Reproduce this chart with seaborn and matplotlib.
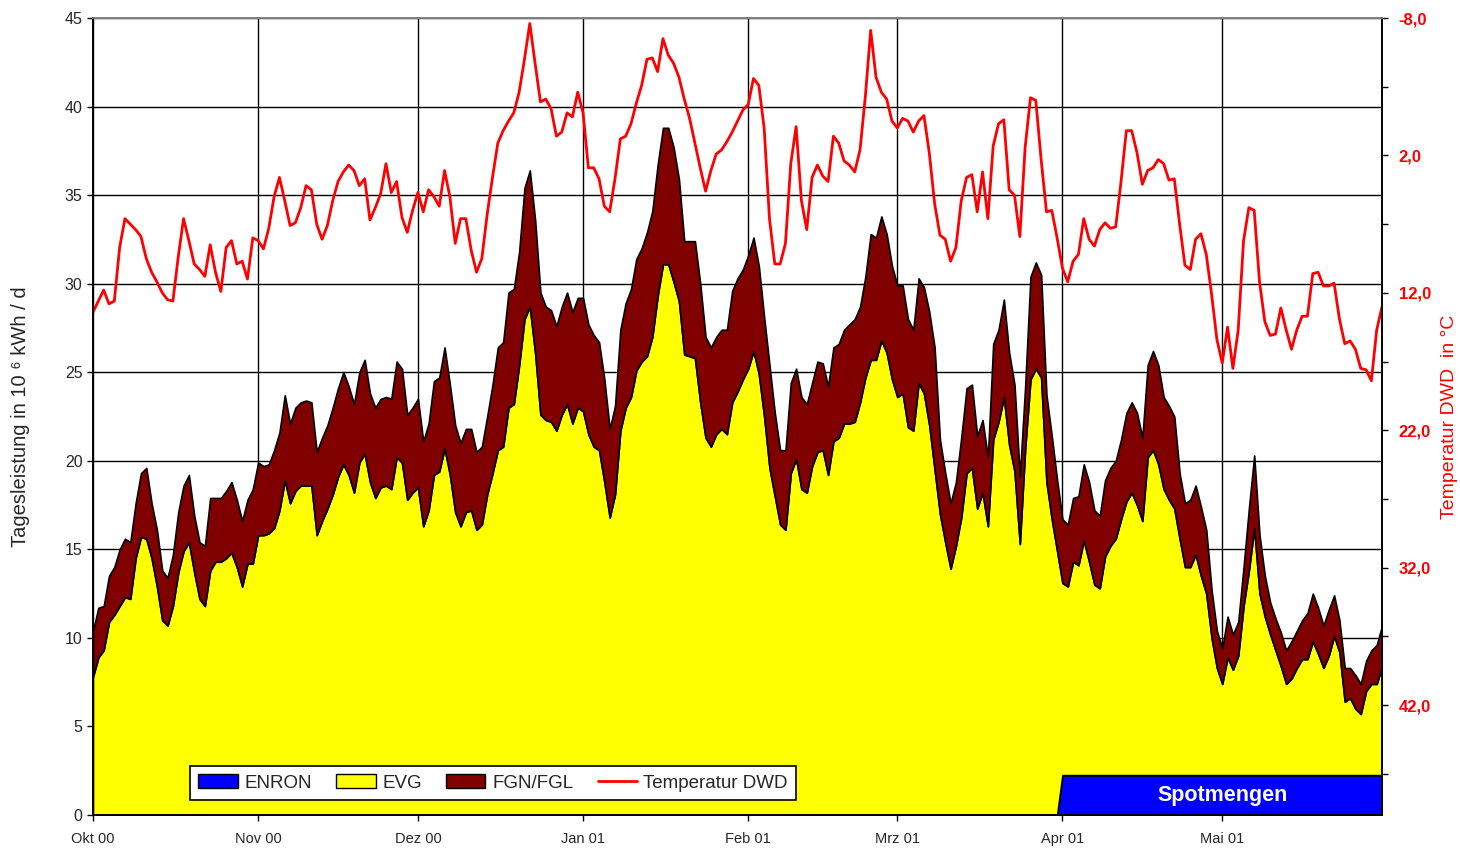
import numpy as np
import pandas as pd
import matplotlib
matplotlib.use("Agg")
import matplotlib.pyplot as plt
from matplotlib.patches import Patch
from matplotlib.lines import Line2D
import seaborn as sns

# one value per day, 1 Oct 2000 .. 31 May 2001
dates = pd.date_range("2000-10-01", "2001-05-31", freq="D")

# stacked totals, 10^6 kWh/d
# top of the yellow area (ENRON + EVG)
evg_top = [
    7.8, 8.9, 9.3, 10.9, 11.3, 11.8, 12.3, 12.2, 14.5, 15.7,
    15.6, 14.5, 12.9, 11.0, 10.7, 11.8, 13.7, 14.9, 15.4, 13.7,
    12.2, 11.8, 13.8, 14.3, 14.3, 14.5, 14.8, 14.0, 12.9, 14.2,
    14.2, 15.8, 15.8, 15.9, 16.2, 17.2, 18.9, 17.6, 18.3, 18.6,
    18.6,
    18.6, 15.8, 16.6, 17.3, 18.1, 19.1, 19.8, 19.2, 18.2, 19.9,
    20.4, 18.8, 17.9, 18.5, 18.6, 18.4, 20.2, 19.9, 17.8, 18.2,
    18.5, 16.3, 17.2, 19.2, 19.4, 20.7, 19.2, 17.1, 16.3, 17.1,
    17.2, 16.1, 16.4, 18.1, 19.3, 20.6, 20.8, 23.0, 23.2,
    25.4, 28.0, 28.7, 26.1, 22.6, 22.3, 22.2, 21.7, 22.6, 23.2,
    22.1, 23.0, 22.8, 21.5, 20.8, 20.6, 18.8, 16.8, 18.1, 21.7,
    23.0, 23.6, 25.1, 25.6, 25.9, 27.0, 29.3, 31.1, 31.1, 30.1,
    29.0, 26.0, 25.9, 25.8, 23.3, 21.3, 20.8, 21.5, 21.8,
    21.5, 23.3, 23.9, 24.6, 25.2, 26.2, 24.9, 22.5, 19.6, 18.0,
    16.4, 16.1, 19.3, 20.1, 18.4, 18.2, 19.7, 20.5, 20.6, 19.2,
    21.1, 21.3, 22.1, 22.1, 22.2, 23.3, 24.7, 25.7, 25.7, 26.8,
    26.1, 24.6, 23.6, 23.8, 21.9, 21.7, 24.4, 23.8, 22.0,
    19.5, 17.0, 15.4, 13.9, 15.2, 16.8, 19.3, 19.6, 17.3, 18.2,
    16.3, 21.2, 22.2, 23.6, 20.9, 19.4, 15.3, 20.7, 24.6, 25.2,
    24.7, 18.8, 16.7, 14.9, 13.1, 12.9, 14.3, 14.1, 15.5, 14.3,
    13.0, 12.8, 14.6, 15.2, 15.6, 16.7, 17.7, 18.2, 17.5, 16.6,
    20.2, 20.6, 19.8, 18.4, 17.8, 17.3, 15.6, 14.0, 14.0, 14.7,
    13.5, 12.5, 10.0, 8.3, 7.4, 8.9, 8.2, 9.0, 11.8, 13.8,
    16.2, 12.5,
    11.2, 10.2, 9.3, 8.4, 7.4, 7.7, 8.3, 8.8, 8.8, 9.8,
    9.1, 8.3, 9.0, 10.1, 9.2, 6.4, 6.6, 6.0, 5.7, 7.0,
    7.4, 7.4, 8.4,
]

# top of the dark red area (ENRON + EVG + FGN/FGL)
fgn_top = [
    10.4, 11.7, 11.8, 13.5, 14.0, 15.0, 15.6, 15.4, 17.6, 19.3,
    19.6, 17.6, 16.1, 13.8, 13.4, 14.7, 17.1, 18.6, 19.2, 16.9,
    15.4, 15.2, 17.9, 17.9, 17.9, 18.3, 18.8, 17.8, 16.6, 17.8,
    18.4, 19.9, 19.7, 19.8, 20.6, 21.6, 23.7, 22.1, 23.0, 23.3,
    23.4,
    23.3, 20.5, 21.3, 22.0, 23.0, 24.1, 25.0, 24.2, 23.2, 25.0,
    25.7, 23.8, 23.0, 23.5, 23.6, 23.5, 25.6, 25.2, 22.6, 23.0,
    23.5, 21.1, 22.1, 24.5, 24.7, 26.4, 24.3, 22.0, 21.0, 21.8,
    21.8, 20.5, 20.8, 22.5, 24.3, 26.4, 26.7, 29.5, 29.7,
    31.8, 35.4, 36.4, 33.6, 29.5, 28.7, 28.5, 27.6, 28.7, 29.5,
    28.4, 29.2, 29.2, 27.7, 27.1, 26.7, 24.6, 21.8, 23.1, 27.4,
    28.9, 29.7, 31.4, 32.0, 32.9, 34.1, 36.7, 38.8, 38.8, 37.7,
    35.9, 32.4, 32.4, 32.4, 30.0, 27.0, 26.4, 27.0, 27.4,
    27.4, 29.6, 30.3, 30.8, 31.6, 32.6, 31.0, 28.1, 25.4, 22.7,
    20.6, 20.6, 24.4, 25.2, 23.6, 23.2, 24.4, 25.6, 25.5, 24.2,
    26.4, 26.6, 27.4, 27.7, 28.0, 28.7, 30.4, 32.8, 32.6, 33.8,
    32.8, 31.0, 29.9, 29.9, 28.0, 27.4, 30.3, 29.8, 28.4,
    26.4, 21.2, 19.3, 17.6, 18.8, 21.3, 24.1, 24.3, 21.4, 22.3,
    20.2, 26.6, 27.4, 29.1, 26.1, 24.3, 19.1, 24.2, 30.4, 31.2,
    30.5, 23.7, 21.4, 18.9, 16.7, 16.4, 17.9, 18.0, 19.8, 18.8,
    17.2, 16.9, 18.9, 19.6, 20.0, 21.2, 22.7, 23.3, 22.7, 21.3,
    25.4, 26.2, 25.4, 23.6, 23.1, 22.5, 19.3, 17.6, 17.8, 18.6,
    17.4, 16.1, 12.7, 10.4, 9.4, 11.2, 10.2, 10.9, 14.0, 17.3,
    20.3, 15.8,
    13.5, 12.0, 11.1, 10.3, 9.3, 9.8, 10.4, 11.0, 11.4, 12.5,
    11.7, 10.7, 11.6, 12.4, 11.0, 8.3, 8.3, 7.9, 7.4, 8.7,
    9.3, 9.6, 10.7,
]

# ENRON spot quantities from 1 April
enron = [0.0] * 182 + [2.25] * 61

# daily temperature DWD in deg C
temp = [
    13.4, 12.6, 11.8, 12.8, 12.6, 8.7, 6.6, 7.0, 7.4, 7.9,
    9.5, 10.5, 11.2, 12.0, 12.5, 12.6, 9.4, 6.6, 8.2, 9.9,
    10.3, 10.8, 8.5, 10.5, 11.9, 8.7, 8.2, 9.9, 9.7, 11.0,
    8.0, 8.2, 8.8, 7.3, 5.0, 3.6, 5.3, 7.1, 6.9, 5.8,
    4.2,
    4.5, 7.0, 8.1, 7.1, 5.3, 3.9, 3.2, 2.7, 3.1, 4.2,
    3.7, 6.7, 5.8, 4.8, 2.6, 4.7, 3.9, 6.5, 7.6, 6.0,
    4.7, 6.1, 4.5, 5.0, 5.7, 3.1, 5.0, 8.4, 6.6, 6.6,
    8.9, 10.5, 9.5, 6.3, 3.6, 1.1, 0.2, -0.5, -1.1,
    -2.6, -5.0, -7.6, -4.7, -1.9, -2.1, -1.4, 0.6, 0.3, -1.1,
    -0.8, -2.6, -1.1, 2.9, 2.9, 3.7, 5.7, 6.1, 3.7, 0.8,
    0.6, -0.3, -1.8, -3.1, -5.0, -5.1, -4.1, -6.5, -5.3, -4.7,
    -3.7, -2.1, -0.7, 1.1, 2.9, 4.6, 3.1, 1.9, 1.6,
    1.0, 0.3, -0.5, -1.3, -1.7, -3.6, -3.1, 0.0, 6.6, 9.9,
    9.9, 8.4, 2.6, -0.1, 5.3, 7.4, 3.6, 2.7, 3.5, 3.9,
    0.6, 1.1, 2.4, 2.7, 3.2, 1.6, -2.3, -7.1, -3.7, -2.6,
    -2.1, -0.5, 0.0, -0.7, -0.5, 0.3, -0.5, -0.9, 1.8,
    5.5, 7.8, 8.1, 9.7, 8.7, 5.3, 3.6, 3.4, 6.1, 3.2,
    6.6, 1.3, -0.3, -0.6, 4.5, 4.9, 7.9, 1.4, -2.2, -2.0,
    2.3, 6.1, 6.0, 8.0, 10.2, 11.2, 9.7, 9.2, 6.6, 8.1,
    8.6, 7.4, 6.9, 7.3, 7.2, 3.9, 0.2, 0.2, 1.8, 4.1,
    3.1, 2.9, 2.3, 2.6, 3.8, 3.7, 7.0, 10.0,
    10.3, 8.1, 7.7, 9.2, 12.1, 15.4, 17.1, 14.5, 17.5, 14.7,
    8.2, 5.8, 6.0, 11.2, 14.1, 15.1, 15.0, 13.1, 14.7, 16.1,
    14.7, 13.7, 13.7, 10.6, 10.5, 11.5, 11.5, 11.3, 13.9, 15.7,
    15.5, 16.1, 17.5, 17.6, 18.4, 14.7, 13.0,
]

month_ticks = pd.date_range("2000-10-01", "2001-05-01", freq="MS")
month_labels = ["Okt 00", "Nov 00", "Dez 00", "Jan 01", "Feb 01", "Mrz 01", "Apr 01", "Mai 01"]
temp_ticks = [-8, 2, 12, 22, 32, 42]

sns.set_style("white")
plt.rcParams["font.family"] = ["Liberation Sans", "DejaVu Sans"]

# layer thicknesses from the stacked totals
evg = np.array(evg_top) - np.array(enron)
fgn = np.array(fgn_top) - np.array(evg_top)

fig = plt.figure(figsize=(14.6, 8.5), dpi=100)
ax = fig.add_axes([0.0637, 0.0412, 0.8829, 0.9376])

ax.stackplot(dates, enron, evg, fgn,
             colors=["#0000ff", "#ffff00", "#800000"],
             edgecolor="black", linewidth=1.2)
ax.set_xlim(dates[0], dates[-1])
ax.set_ylim(0, 45)
ax.set_yticks(range(0, 46, 5))
ax.set_xticks(month_ticks, month_labels)
ax.grid(True, color="black", linewidth=1)
ax.set_axisbelow(True)
ax.tick_params(axis="both", direction="out", length=4, width=1, color="black",
               labelsize=11.5, left=True, bottom=True)
ax.tick_params(axis="x", labelsize=10.5, pad=8)
ax.set_ylabel("Tagesleistung in 10 \u2076 kWh / d", fontsize=14.5)
ax.yaxis.set_label_coords(-0.049, 0.5)

ax.text(pd.Timestamp("2001-05-01"), 1.1, "Spotmengen", ha="center", va="center",
        color="white", fontweight="bold", fontsize=15.5, zorder=5)

# temperature on inverted right axis
ax2 = ax.twinx()
sns.lineplot(x=dates, y=temp, color="red", linewidth=2, ax=ax2, legend=False)
ax2.set_ylim(50, -8)
ax2.set_yticks(temp_ticks, [f"{t:.1f}".replace(".", ",") for t in temp_ticks])
ax2.set_yticks(np.arange(-3, 48, 10), minor=True)
ax2.tick_params(axis="y", which="both", direction="out", length=4, width=1,
                color="black", labelcolor="red", labelsize=12, pad=8, right=True)
for lbl in ax2.get_yticklabels():
    lbl.set_fontweight("bold")
ax2.set_ylabel("Temperatur DWD  in \u00b0C", color="red", fontsize=14)
ax2.yaxis.set_label_coords(1.046, 0.5)
ax2.grid(False)

for a in (ax, ax2):
    for side in ("left", "right", "bottom"):
        a.spines[side].set_color("black")
        a.spines[side].set_linewidth(1.2)
    a.spines["top"].set_color("#808080")
    a.spines["top"].set_linewidth(1.2)

handles = [
    Patch(facecolor="#0000ff", edgecolor="black"),
    Patch(facecolor="#ffff00", edgecolor="black"),
    Patch(facecolor="#800000", edgecolor="black"),
    Line2D([], [], color="red", linewidth=2),
]
leg = ax2.legend(handles, ["ENRON", "EVG", "FGN/FGL", "Temperatur DWD"],
                 loc="lower left", bbox_to_anchor=(0.0752, 0.0188), ncol=4,
                 frameon=True, fancybox=False, framealpha=1, edgecolor="black",
                 borderaxespad=0, fontsize=13.5, handlelength=2.1, handleheight=0.7,
                 handletextpad=0.35, columnspacing=1.3, borderpad=0.45)
leg.get_frame().set_linewidth(1.2)

fig.savefig("out.png", dpi=100)
